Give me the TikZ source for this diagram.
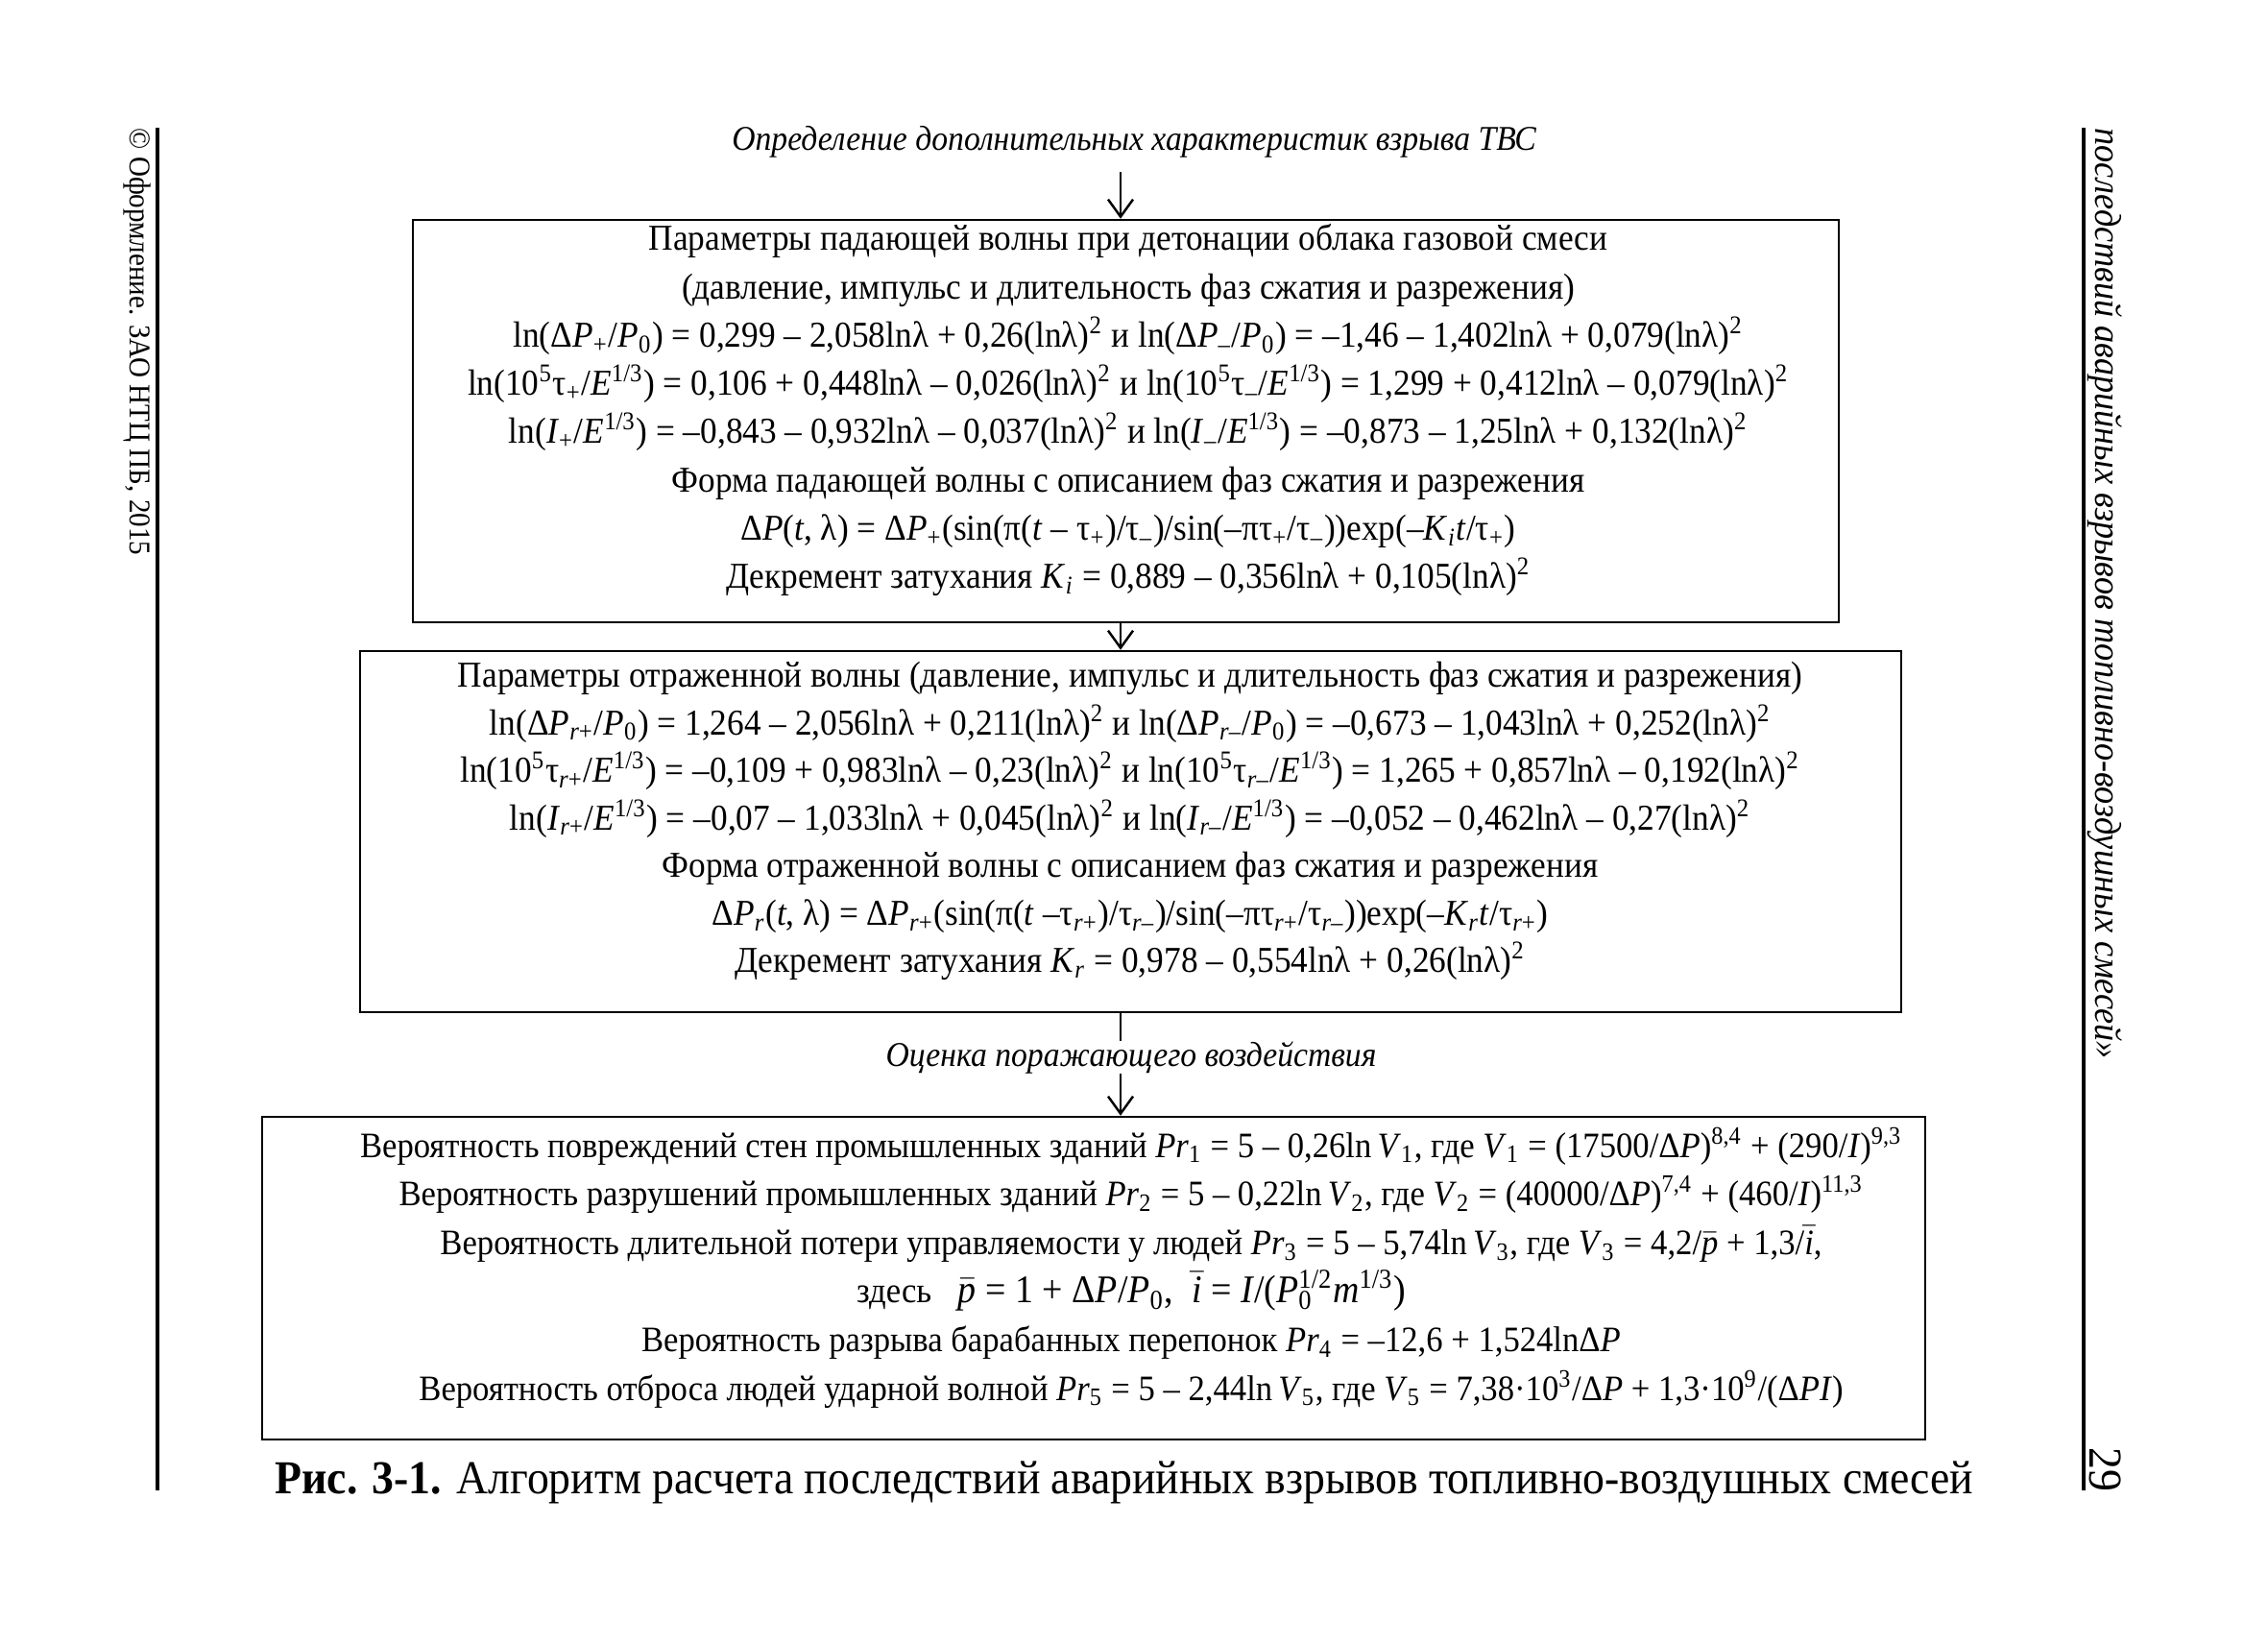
\documentclass[tikz,border=0pt]{standalone}
\usepackage{fontspec}
\setmainfont[FakeStretch=0.93]{Liberation Serif}
\usetikzlibrary{arrows.meta, positioning}
\newcommand*{\ivar}[2]{\textit{#1}\textsubscript{#2}}
\newcommand*{\tsub}[1]{τ\textsubscript{#1}}
\newcommand*{\sqr}{(lnλ)\textsuperscript{2}}
\newcommand*{\cbrt}{\textit{E}\textsuperscript{1/3}}
\newcommand*{\barred}[1]{\ensuremath{\bar{\textit{#1}}}}
\newcommand*{\rp}{\textit{r}+}
\newcommand*{\rmin}{\textit{r}–}

\begin{document}
\begin{tikzpicture}[frame/.style={draw, line width=0.7pt, rectangle, inner sep=0pt}, rows/.style={align=center, inner sep=0pt, font=\fontsize{10.8}{14.3}\selectfont},
    heading/.style={font=\fontsize{10.3}{12}\selectfont\itshape}, margin/.style={rotate=-90, anchor=west, inner sep=0pt}, >={Straight Barb[length=1.8mm, width=2.6mm]}]
    \tikzstyle{rule} = [line width=0.9pt]

    \path[fill=white, use as bounding box] (0,0) rectangle (23.62,-17.13);
    \coordinate (axis) at (11.67,0);

    % page margins
    \draw[rule] (1.64,-1.33) -- (1.64,-15.52);
    \draw[rule] (21.70,-1.33) -- (21.70,-15.52);
    \node[margin, font=\fontsize{8.9}{10}\selectfont] (copyright) at (1.43,-1.33) {© Оформление. ЗАО НТЦ ПБ, 2015};
    \node[margin, font=\fontsize{11.1}{13}\selectfont\itshape] (running) at (21.92,-1.33) {последствий аварийных взрывов топливно-воздушных смесей»};
    \node[rotate=-90, font=\fontsize{14}{16}\selectfont] (pageno) at (21.93,-15.30) {29};

    \node[heading, inner ysep=4pt] (title) at (11.81,-1.48) {Определение дополнительных характеристик взрыва ТВС};

    % boxes
    \node[frame, minimum width=14.85cm, minimum height=4.19cm] (incident) at (11.725,-4.385) {};
    \node[frame, minimum width=16.05cm, minimum height=3.76cm] (reflected) at (11.775,-8.66) {};
    \node[frame, minimum width=17.32cm, minimum height=3.36cm] (effects) at (11.39,-13.31) {};

    \node[rows, anchor=north] (incidentText) at (11.75,-2.33) {Параметры падающей волны при детонации облака газовой смеси\\
      (давление, импульс и длительность фаз сжатия и разрежения)\\
      ln(Δ\ivar{P}{+}/\ivar{P}{0}) = 0,299 – 2,058lnλ + 0,26\sqr{} и ln(Δ\ivar{P}{–}/\ivar{P}{0}) = –1,46 – 1,402lnλ + 0,079\sqr\\
      ln(10\textsuperscript{5}\tsub{+}/\cbrt) = 0,106 + 0,448lnλ – 0,026\sqr{} и ln(10\textsuperscript{5}\tsub{–}/\cbrt) = 1,299 + 0,412lnλ – 0,079\sqr\\
      ln(\ivar{I}{+}/\cbrt) = –0,843 – 0,932lnλ – 0,037\sqr{} и ln(\ivar{I}{–}/\cbrt) = –0,873 – 1,25lnλ + 0,132\sqr\\
      Форма падающей волны с описанием фаз сжатия и разрежения\\
      Δ\textit{P}(\textit{t}, λ) = Δ\ivar{P}{+}(sin(π(\textit{t} – \tsub{+})/\tsub{–})/sin(–π\tsub{+}/\tsub{–}))exp(–\ivar{K}{\textit{i}}\textit{t}/\tsub{+})\\
      Декремент затухания \ivar{K}{\textit{i}} = 0,889 – 0,356lnλ + 0,105\sqr};

    \node[rows, anchor=north, font=\fontsize{10.8}{14.1}\selectfont] (reflectedText) at (11.77,-6.885) {Параметры отраженной волны (давление, импульс и длительность фаз сжатия и разрежения)\\
      ln(Δ\ivar{P}{\rp}/\ivar{P}{0}) = 1,264 – 2,056lnλ + 0,211\sqr{} и ln(Δ\ivar{P}{\rmin}/\ivar{P}{0}) = –0,673 – 1,043lnλ + 0,252\sqr\\
      ln(10\textsuperscript{5}\tsub{\rp}/\cbrt) = –0,109 + 0,983lnλ – 0,23\sqr{} и ln(10\textsuperscript{5}\tsub{\rmin}/\cbrt) = 1,265 + 0,857lnλ – 0,192\sqr\\
      ln(\ivar{I}{\rp}/\cbrt) = –0,07 – 1,033lnλ + 0,045\sqr{} и ln(\ivar{I}{\rmin}/\cbrt) = –0,052 – 0,462lnλ – 0,27\sqr\\
      Форма отраженной волны с описанием фаз сжатия и разрежения\\
      Δ\ivar{P}{\textit{r}}(\textit{t}, λ) = Δ\ivar{P}{\rp}(sin(π(\textit{t} –\tsub{\rp})/\tsub{\rmin})/sin(–π\tsub{\rp}/\tsub{\rmin}))exp(–\ivar{K}{\textit{r}}\textit{t}/\tsub{\rp})\\
      Декремент затухания \ivar{K}{\textit{r}} = 0,978 – 0,554lnλ + 0,26\sqr};

    \node[heading, inner ysep=0pt] (impact) at (11.78,-11.01) {Оценка поражающего воздействия};

    \node[rows, anchor=north, font=\fontsize{10.6}{14.4}\selectfont] (effectsText) at (11.78,-11.73) {Вероятность повреждений стен промышленных зданий \ivar{Pr}{1} = 5 – 0,26ln\,\ivar{V}{1}, где \ivar{V}{1} = (17500/Δ\textit{P})\textsuperscript{8,4} + (290/\textit{I})\textsuperscript{9,3}\\
      Вероятность разрушений промышленных зданий \ivar{Pr}{2} = 5 – 0,22ln\,\ivar{V}{2}, где \ivar{V}{2} = (40000/Δ\textit{P})\textsuperscript{7,4} + (460/\textit{I})\textsuperscript{11,3}\\
      Вероятность длительной потери управляемости у людей \ivar{Pr}{3} = 5 – 5,74ln\,\ivar{V}{3}, где \ivar{V}{3} = 4,2/\barred{p} + 1,3/\barred{i},\\
      здесь {\fontsize{11.6}{14.4}\selectfont\ \ \barred{p} = 1 + Δ\textit{P}/\ivar{P}{0},\ \ \barred{i} = \textit{I}/(\textit{P}\rlap{\textsubscript{0}}\textsuperscript{1/2}\textit{m}\textsuperscript{1/3})}\hspace*{0.4cm}\\
      Вероятность разрыва барабанных перепонок \ivar{Pr}{4} = –12,6 + 1,524lnΔ\textit{P}\\
      Вероятность отброса людей ударной волной \ivar{Pr}{5} = 5 – 2,44ln\,\ivar{V}{5}, где \ivar{V}{5} = 7,38·10\textsuperscript{3}/Δ\textit{P} + 1,3·10\textsuperscript{9}/(Δ\textit{PI})};

    \node[font=\fontsize{14}{16}\selectfont] (caption) at (11.71,-15.44) {\textbf{Рис. 3-1.} Алгоритм расчета последствий аварийных взрывов топливно-воздушных смесей};

    % connectors
    \draw[->, line width=0.7pt] (title.south -| axis) -- (incident.north -| axis);
    \draw[->, line width=0.7pt] (incident.south -| axis) -- (reflected.north -| axis);
    \draw[line width=0.7pt] (reflected.south -| axis) -- (impact.north -| axis);
    \draw[->, line width=0.7pt] (impact.south -| axis) -- (effects.north -| axis);

\end{tikzpicture}
\end{document}
